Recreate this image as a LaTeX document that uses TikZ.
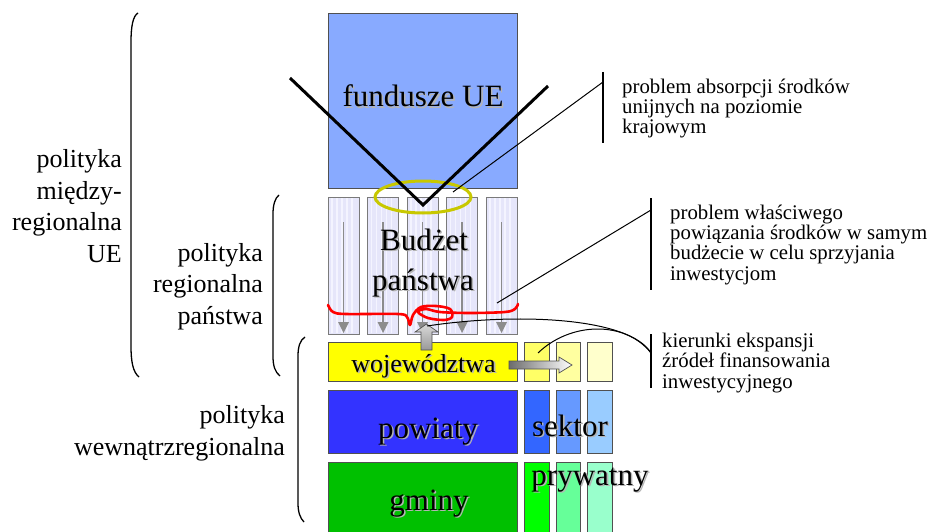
\documentclass[tikz,border=0pt]{standalone}
\usepackage{fontspec}
\setmainfont{Liberation Serif}
\usetikzlibrary{calc}

\definecolor{euBlue}{HTML}{88AAFF}
\definecolor{boxEdge}{HTML}{505050}
\definecolor{colEdge}{HTML}{7A7A7A}
\definecolor{colFill}{HTML}{E6E6FA}
\definecolor{colStripe}{HTML}{F4F4FF}
\definecolor{colArrow}{HTML}{8C8C8C}
\definecolor{ringYellow}{HTML}{C8C800}
\definecolor{voivYellow}{HTML}{FFFF00}
\definecolor{yelA}{HTML}{FFFF66}
\definecolor{yelB}{HTML}{FFFFA0}
\definecolor{yelC}{HTML}{FFFFCC}
\definecolor{distBlue}{HTML}{3333FF}
\definecolor{bluA}{HTML}{3366FF}
\definecolor{bluB}{HTML}{6699FF}
\definecolor{bluC}{HTML}{99CCFF}
\definecolor{communeGreen}{HTML}{00C000}
\definecolor{grnA}{HTML}{00FF00}
\definecolor{grnB}{HTML}{66FF99}
\definecolor{grnC}{HTML}{99FFCC}
\definecolor{shadowGray}{HTML}{B4B4B4}

\tikzset{
  box/.style={draw=boxEdge, line width=0.9pt},
  colbox/.style={draw=colEdge, fill=colFill, line width=0.9pt},
  bigtxt/.style={font=\fontsize{31}{40}\selectfont, inner sep=0pt, anchor=base},
  midtxt/.style={font=\fontsize{26}{32}\selectfont, inner sep=0pt, anchor=base},
  % multi-line labels are placed by the baseline of their last line
  sidelbl/.style={font=\fontsize{26}{31.5}\selectfont, inner sep=0pt, align=right, anchor=base east},
  note/.style={font=\fontsize{20.8}{20.3}\selectfont, inner sep=0pt, align=left, anchor=base west},
  brace/.style={draw=black, line width=1.3pt},
  tick/.style={draw=black, line width=1.3pt},
  thin/.style={draw=black, line width=1pt},
  vline/.style={draw=black, line width=3pt},
  blockarrow/.style={draw=boxEdge, line width=0.7pt},
}

% text with a soft grey drop shadow
\newcommand\shadowlabel[5]{%
  \node[#1, text=shadowGray] (#2-sh) at (#3+1.6,#4+1.6) {#5};
  \node[#1] (#2) at (#3,#4) {#5};
}

\begin{document}
\begin{tikzpicture}[x=1pt,y=-1pt]
\useasboundingbox (0,0) rectangle (931,532);
\fill[white] (0,0) rectangle (931,532);

% --- EU funds block
\path[box, fill=euBlue] (328,13) rectangle (517,188);
\shadowlabel{bigtxt}{fundusze}{423}{107}{fundusze UE}

% --- state budget: five striped columns with downward flow arrows
\foreach \i in {0,...,4} {
  \pgfmathsetmacro\cx{328+39.5*\i}
  \path[colbox] (\cx,197) rectangle (\cx+31,334);
  \foreach \s in {4,9,14,19,24} {
    \draw[colStripe, line width=1.6pt] (\cx+\s,198) -- (\cx+\s,333);
  }
  \draw[colArrow, line width=1.1pt] (\cx+15.5,222) -- (\cx+15.5,322);
  \fill[colArrow] (\cx+10,322) -- (\cx+21,322) -- (\cx+15.5,333) -- cycle;
}
\shadowlabel{bigtxt}{budzet}{424}{250}{Budżet}
\shadowlabel{bigtxt}{panstwa}{423}{290}{państwa}

% --- absorption ring and funnel
\draw[ringYellow, line width=3pt] (423,197) ellipse [x radius=48pt, y radius=16pt];
\coordinate (vL) at (290,78);
\coordinate (vTip) at (423,205);
\coordinate (vR) at (548,86);
\draw[vline] (vL) -- (vTip) -- (vR);

% --- red knot across the budget columns
\draw[red, line width=2.6pt, line join=round, line cap=round]
  plot[smooth, tension=0.55] coordinates {
    (328,305) (333,312) (346,314) (398,314) (407,317) (410,325)
    (413,315) (421,307) (436,306) (450,309) (452,317) (444,320)
    (428,318) (418,312) (426,309) (440,312) (470,313) (505,312) (515,309) (518,304)};

% --- regional self-government rows
\path[box, fill=voivYellow] (328,342) rectangle (517,381);
\shadowlabel{midtxt}{wojew}{423.5}{372}{województwa}
\path[box, fill=distBlue] (328,390) rectangle (517,453);
\shadowlabel{bigtxt}{powiaty}{428}{438}{powiaty}
\path[box, fill=communeGreen] (328,462) rectangle (517,545);
\shadowlabel{bigtxt}{gminy}{429}{510}{gminy}

% --- private sector columns
\path[box, fill=yelA] (524,342) rectangle (549,381);
\path[box, fill=yelB] (556,342) rectangle (580,381);
\path[box, fill=yelC] (587,342) rectangle (612,381);
\path[box, fill=bluA] (524,390) rectangle (549,453);
\path[box, fill=bluB] (556,390) rectangle (580,453);
\path[box, fill=bluC] (587,390) rectangle (612,453);
\path[box, fill=grnA] (524,462) rectangle (549,545);
\path[box, fill=grnB] (556,462) rectangle (580,545);
\path[box, fill=grnC] (587,462) rectangle (612,545);
\shadowlabel{bigtxt}{sektor}{570}{436}{sektor}
\shadowlabel{bigtxt}{prywatny}{590}{485}{prywatny}

% --- expansion arrows
\path[blockarrow, top color=gray!30, bottom color=gray!80]
  (421,350) -- (421,332) -- (415,332) -- (426.5,324) -- (438,332) -- (432,332) -- (432,350) -- cycle;
\path[blockarrow, left color=gray!85!black, right color=white]
  (509,361) -- (559,361) -- (559,357) -- (572,365) -- (559,373) -- (559,369) -- (509,369) -- cycle;

% --- callouts on the right
\coordinate (t1a) at (603,72);
\coordinate (t1b) at (603,143);
\coordinate (t1p) at (603,82);
\coordinate (t1e) at (453,192);
\draw[tick] (t1a) -- (t1b);
\draw[thin] (t1p) -- (t1e);
\node[note] (note1) at (622,134) {problem absorpcji środków\\unijnych na poziomie\\krajowym};

\coordinate (t2a) at (651,198);
\coordinate (t2b) at (651,290);
\coordinate (t2p) at (651,210);
\coordinate (t2e) at (497,303);
\draw[tick] (t2a) -- (t2b);
\draw[thin] (t2p) -- (t2e);
\node[note] (note2) at (670,280) {problem właściwego\\powiązania środków w samym\\budżecie w celu sprzyjania\\inwestycjom};

\coordinate (t3a) at (651,334);
\coordinate (t3b) at (651,388);
\coordinate (t3p) at (651,353);
\coordinate (t3e1) at (427,326);
\coordinate (t3e2) at (538,353);
\draw[tick] (t3a) -- (t3b);
\draw[thin] (t3p) .. controls (630,318) and (520,312) .. (t3e1);
\draw[thin] (t3p) .. controls (625,320) and (570,322) .. (t3e2);
\node[note] (note3) at (662,388) {kierunki ekspansji\\źródeł finansowania\\inwestycyjnego};

% --- policy levels on the left
\draw[brace] (138,13) .. controls (133,16) and (131,26) .. (131,42) -- (131,346)
  .. controls (131,362) and (133,372) .. (139,377);
\node[sidelbl] (euPolicy) at (122,262) {polityka\\między-\\regionalna\\UE};

\draw[brace] (279,195) .. controls (275,198) and (273,205) .. (273,214) -- (273,356)
  .. controls (273,366) and (275,372) .. (280,376);
\node[sidelbl] (statePolicy) at (263,324) {polityka\\regionalna\\państwa};

\draw[brace] (305,337) .. controls (300,340) and (298,347) .. (298,356) -- (298,503)
  .. controls (298,512) and (300,518) .. (304,522);
\node[sidelbl] (intraPolicy) at (285,455) {polityka\\wewnątrzregionalna};
\end{tikzpicture}
\end{document}
